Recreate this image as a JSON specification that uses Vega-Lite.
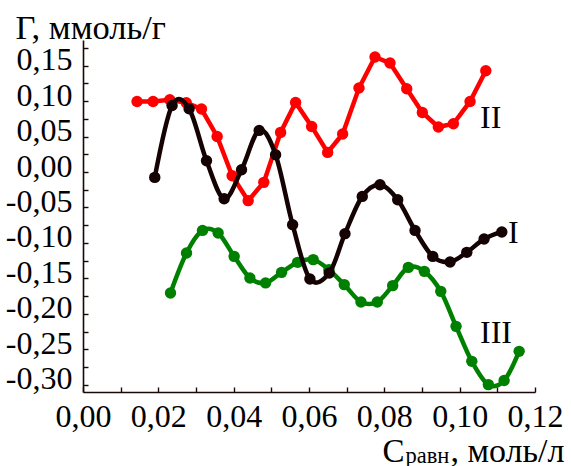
{
  "$schema": "https://vega.github.io/schema/vega-lite/v6.json",
  "width": 452,
  "height": 352,
  "autosize": "none",
  "padding": {"left": 83, "top": 40, "right": 36, "bottom": 74},
  "background": "white",
  "config": {
    "view": {"stroke": null},
    "locale": {"number": {"decimal": ",", "thousands": " ", "grouping": [3], "currency": ["", ""], "minus": "-"}},
    "axis": {
      "domainColor": "#1a0808", "domainWidth": 1.6, "tickColor": "#1a0808", "tickWidth": 1.4, "tickSize": -5,
      "labelFont": "Liberation Serif", "labelFontSize": 32, "labelColor": "black", "grid": false,
      "titleFont": "Liberation Serif", "titleFontWeight": "normal", "titleColor": "black"
    }
  },
  "datasets": {
    "II": [
      {"x": 0.01435, "y": 0.0994}, {"x": 0.0186, "y": 0.0994}, {"x": 0.02304, "y": 0.1018}, {"x": 0.02742, "y": 0.0976},
      {"x": 0.03146, "y": 0.0887}, {"x": 0.03561, "y": 0.0501}, {"x": 0.0396, "y": -0.0052}, {"x": 0.04385, "y": -0.0404},
      {"x": 0.048, "y": -0.0146}, {"x": 0.05246, "y": 0.0558}, {"x": 0.05644, "y": 0.098}, {"x": 0.0607, "y": 0.0642},
      {"x": 0.06495, "y": 0.0276}, {"x": 0.06893, "y": 0.0535}, {"x": 0.07327, "y": 0.1183}, {"x": 0.07752, "y": 0.162},
      {"x": 0.0815, "y": 0.1535}, {"x": 0.08594, "y": 0.1173}, {"x": 0.09009, "y": 0.0839}, {"x": 0.09434, "y": 0.0634},
      {"x": 0.09833, "y": 0.068}, {"x": 0.10276, "y": 0.0994}, {"x": 0.10694, "y": 0.1427}
    ],
    "I": [
      {"x": 0.01905, "y": -0.0076}, {"x": 0.02365, "y": 0.0938}, {"x": 0.02817, "y": 0.0892}, {"x": 0.03279, "y": 0.0159},
      {"x": 0.03747, "y": -0.0376}, {"x": 0.04209, "y": 0.0032}, {"x": 0.04677, "y": 0.0586}, {"x": 0.05113, "y": 0.0244},
      {"x": 0.05565, "y": -0.0742}, {"x": 0.06024, "y": -0.1507}, {"x": 0.06537, "y": -0.1423}, {"x": 0.06955, "y": -0.0869},
      {"x": 0.07414, "y": -0.0344}, {"x": 0.07885, "y": -0.0179}, {"x": 0.08355, "y": -0.039}, {"x": 0.08815, "y": -0.0823},
      {"x": 0.09285, "y": -0.1189}, {"x": 0.09745, "y": -0.1268}, {"x": 0.10189, "y": -0.1132}, {"x": 0.10648, "y": -0.0944},
      {"x": 0.11119, "y": -0.0845}
    ],
    "III": [
      {"x": 0.02323, "y": -0.1704}, {"x": 0.02748, "y": -0.1141}, {"x": 0.03173, "y": -0.0823}, {"x": 0.03588, "y": -0.0859},
      {"x": 0.04013, "y": -0.1189}, {"x": 0.0443, "y": -0.1493}, {"x": 0.04847, "y": -0.1563}, {"x": 0.05272, "y": -0.1414},
      {"x": 0.05698, "y": -0.1273}, {"x": 0.06112, "y": -0.1235}, {"x": 0.06529, "y": -0.1376}, {"x": 0.06936, "y": -0.1587},
      {"x": 0.0738, "y": -0.1831}, {"x": 0.07813, "y": -0.1831}, {"x": 0.08222, "y": -0.1601}, {"x": 0.08637, "y": -0.1344},
      {"x": 0.09062, "y": -0.14}, {"x": 0.09498, "y": -0.1682}, {"x": 0.09904, "y": -0.2175}, {"x": 0.10322, "y": -0.2668},
      {"x": 0.10762, "y": -0.2996}, {"x": 0.1118, "y": -0.2939}, {"x": 0.11579, "y": -0.2527}
    ],
    "labels": [
      {"t": "II", "x": 0.1054, "y": 0.0765},
      {"t": "I", "x": 0.1128, "y": -0.0855},
      {"t": "III", "x": 0.1054, "y": -0.227}
    ]
  },
  "encoding": {
    "y": {
      "field": "y", "type": "quantitative",
      "scale": {"domain": [-0.31, 0.186], "nice": false, "zero": false},
      "axis": {
        "values": [-0.3, -0.275, -0.25, -0.225, -0.2, -0.175, -0.15, -0.125, -0.1, -0.075, -0.05, -0.025, 0, 0.025, 0.05, 0.075, 0.1, 0.125, 0.15, 0.175],
        "format": ".2f",
        "labelExpr": "abs(round(datum.value*1000)) % 50 == 0 ? datum.label : ''",
        "labelPadding": 16, "labelOffset": -6, "labelFlush": false, "labelOverlap": false,
        "title": "Г, ммоль/г", "titleFontSize": 34.5, "titleAngle": 0, "titleAlign": "left", "titleBaseline": "alphabetic",
        "titleX": -68, "titleY": -2
      }
    }
  },
  "resolve": {"axis": {"x": "independent"}},
  "layer": [
    {
      "data": {"name": "II"},
      "mark": {"type": "line", "color": "#ff0000", "strokeWidth": 4.5},
      "encoding": {
        "x": {
          "field": "x", "type": "quantitative",
          "scale": {"domain": [0, 0.12], "nice": false, "zero": false},
          "axis": {
            "orient": "bottom",
            "values": [0, 0.01, 0.02, 0.03, 0.04, 0.05, 0.06, 0.07, 0.08, 0.09, 0.1, 0.11, 0.12],
            "format": ".2f",
            "labelExpr": "round(datum.value*100) % 2 == 0 ? datum.label : ''",
            "labelPadding": 14, "labelFlush": false, "labelOverlap": false,
            "title": "C", "titleFontSize": 33, "titleAlign": "left", "titleBaseline": "alphabetic",
            "titleX": 299, "titleY": 69
          }
        }
      }
    },
    {
      "data": {"name": "II"},
      "mark": {"type": "point", "filled": true, "opacity": 1, "color": "#ff0000", "size": 130},
      "encoding": {"x": {"field": "x", "type": "quantitative", "axis": null}}
    },
    {
      "data": {"name": "III"},
      "mark": {"type": "line", "color": "#008000", "strokeWidth": 4.5, "interpolate": "cardinal"},
      "encoding": {
        "x": {
          "field": "x", "type": "quantitative",
          "axis": {
            "orient": "bottom",
            "domain": false, "ticks": false, "labels": false,
            "title": "равн", "titleFontSize": 22.5, "titleAlign": "left", "titleBaseline": "alphabetic",
            "titleX": 322, "titleY": 70
          }
        }
      }
    },
    {
      "data": {"name": "III"},
      "mark": {"type": "point", "filled": true, "opacity": 1, "color": "#008000", "size": 130},
      "encoding": {"x": {"field": "x", "type": "quantitative", "axis": null}}
    },
    {
      "data": {"name": "I"},
      "mark": {"type": "line", "color": "#150303", "strokeWidth": 4.5, "interpolate": "cardinal"},
      "encoding": {
        "x": {
          "field": "x", "type": "quantitative",
          "axis": {
            "orient": "bottom",
            "domain": false, "ticks": false, "labels": false,
            "title": ", моль/л", "titleFontSize": 34, "titleAlign": "left", "titleBaseline": "alphabetic",
            "titleX": 367, "titleY": 69
          }
        }
      }
    },
    {
      "data": {"name": "I"},
      "mark": {"type": "point", "filled": true, "opacity": 1, "color": "#150303", "size": 130},
      "encoding": {"x": {"field": "x", "type": "quantitative", "axis": null}}
    },
    {
      "data": {"name": "labels"},
      "mark": {"type": "text", "font": "Liberation Serif", "fontSize": 32, "align": "left", "baseline": "middle", "color": "black"},
      "encoding": {
        "x": {"field": "x", "type": "quantitative", "axis": null},
        "text": {"field": "t"}
      }
    }
  ]
}
